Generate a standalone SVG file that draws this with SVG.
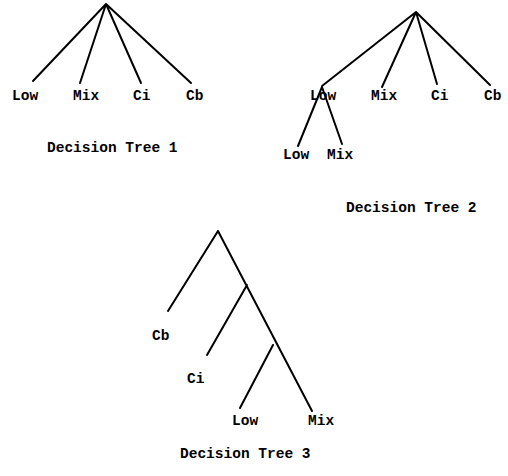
<svg xmlns="http://www.w3.org/2000/svg" width="508" height="476" viewBox="0 0 508 476">
<style>
.e{stroke:#000;stroke-width:2;stroke-linecap:round;fill:none}
text{font-family:"Liberation Mono","Courier New",monospace;font-weight:bold;font-size:14.5px;fill:#000}
</style>
<rect width="508" height="476" fill="#fff"/>
<g id="connectors">
<path class="e" d="M106 4L33 81M106 4L80 83M106 4L141 83M106 4L191 83"/>
<path class="e" d="M416 12L322 86M416 12L382 87M416 12L437 84M416 12L490 85M322 87L298 146M322 87L342 144"/>
<path class="e" d="M218 231L168 311M218 231L312 411M247 285L207 355M273 345L240 408"/>
</g>
<g id="tree1">
<text x="12" y="100">Low</text>
<text x="73" y="100">Mix</text>
<text x="133" y="100">Ci</text>
<text x="186" y="100">Cb</text>
<text x="47" y="152">Decision Tree 1</text>
</g>
<g id="tree2">
<text x="310" y="100">Low</text>
<text x="371" y="100">Mix</text>
<text x="431" y="100">Ci</text>
<text x="484" y="100">Cb</text>
<text x="283" y="159">Low</text>
<text x="327" y="159">Mix</text>
<text x="346" y="212">Decision Tree 2</text>
</g>
<g id="tree3">
<text x="152" y="340">Cb</text>
<text x="187" y="383">Ci</text>
<text x="232" y="425">Low</text>
<text x="308" y="425">Mix</text>
<text x="180" y="458">Decision Tree 3</text>
</g>
</svg>
